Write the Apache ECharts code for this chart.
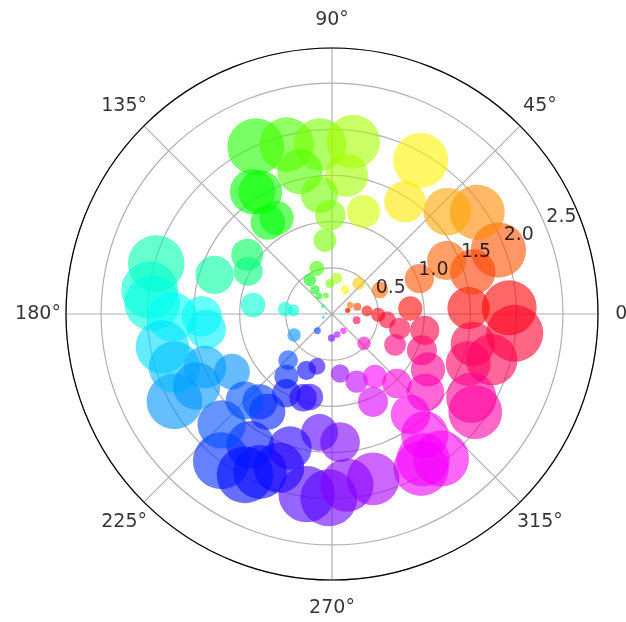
<!DOCTYPE html>
<html>
<head>
<meta charset="utf-8">
<script src="https://cdn.jsdelivr.net/npm/echarts@6/dist/echarts.min.js"></script>
<style>
  html, body { margin: 0; padding: 0; background: #fff; }
  #chart { width: 626px; height: 622px; }
</style>
</head>
<body>
<div id="chart"></div>
<script>
// Scatter points: angle in degrees and radius
const thetaDeg = [
  2, 354, 2.5, 21, 16.6, 25, 22, 35, 41.6, 60, 57, 73,
  26.6, 4, 354, 14, 26.6, 16, 12, 5, 346, 359,
  61.5, 49, 82.5, 94,
  108.5, 123, 125, 126, 108, 139, 170, 201,
  229, 209, 174, 175, 269, 284, 304, 317.5, 277.7, 290,
  226.5, 245.7, 254, 234, 255, 240, 230.6,
  348, 344, 340, 350, 338, 330, 329, 320, 325.6, 307, 307.5, 300, 302,
  284, 308, 295, 273.6, 264, 269, 262, 275,
  251, 245.5, 252.6, 236.5, 251, 238, 233, 225, 241.6, 209,
  164, 172.5, 176.5, 181, 181, 187, 191, 198.6, 202.7, 210, 161.6, 145, 153, 173.5, 208, 224.7,
  114.5, 123, 105, 94, 83, 84, 102.7, 120.5, 120, 91, 96, 125, 95.5,
  348, 334, 304.5, 313
];
const radius = [
  1.92, 1.99, 1.48, 1.93, 1.59, 1.37, 1.02, 1.92, 1.67, 1.92, 1.45, 1.16,
  0.58, 0.85, 0.60, 0.18, 0.22, 0.285, 0.17, 0.38, 0.275, 0.50,
  0.30, 0.44, 0.39, 0.33,
  0.52, 0.44, 0.32, 0.24, 0.21, 0.13, 0.07, 0.10,
  0.24, 0.47, 0.51, 0.42, 0.26, 0.23, 0.22, 0.47, 0.65, 0.78,
  0.69, 0.67, 0.59, 0.84, 0.93, 0.99, 1.23,
  1.56, 1.80, 1.57, 1.02, 1.05, 1.20, 1.76, 1.32, 1.88, 1.96, 1.65, 1.93, 1.86,
  1.84, 1.38, 1.05, 1.39, 1.29, 1.99, 1.97, 1.86,
  1.76, 1.88, 1.52, 1.27, 0.96, 1.67, 1.99, 1.69, 1.98, 1.95,
  1.98, 1.99, 1.95, 1.73, 1.41, 1.37, 1.87, 1.80, 1.49, 1.25, 1.34, 1.12, 1.02, 0.86, 1.66, 1.33,
  1.99, 1.58, 1.90, 1.84, 1.88, 1.51, 1.58, 1.53, 1.20, 1.07, 1.30, 1.21, 0.80,
  0.75, 0.76, 0.82, 1.03
];

// Axis ticks and their labels
const angleTicks = [0, 45, 90, 135, 180, 225, 270, 315];
const angleTickLabels = ['0°', '45°', '90°', '135°', '180°', '225°', '270°', '315°'];
const radiusTicks = [0.5, 1.0, 1.5, 2.0, 2.5];
const radiusTickLabels = ['0.5', '1.0', '1.5', '2.0', '2.5'];
const radiusLabelAngle = 22.5;
const radiusMax = 2.88;

// marker diameter grows linearly with radius (area ~ r^2)
const SIZE_PER_UNIT = 28.6;
const ALPHA = 0.75;

// matplotlib-style "hsv" colormap segments
const HSV_SEG = {
  r: [[0, 1], [0.158730, 1], [0.174603, 0.96875], [0.333333, 0.03125], [0.349206, 0], [0.666667, 0], [0.682540, 0.03125], [0.841270, 0.96875], [0.857143, 1], [1, 1]],
  g: [[0, 0], [0.158730, 0.9375], [0.174603, 1], [0.507937, 1], [0.666667, 0.0625], [0.682540, 0], [1, 0]],
  b: [[0, 0], [0.333333, 0], [0.349206, 0.0625], [0.507937, 1], [0.841270, 1], [0.857143, 0.9375], [1, 0.09375]]
};
function segVal(seg, t) {
  for (let i = 1; i < seg.length; i++) {
    if (t <= seg[i][0]) {
      const [x0, y0] = seg[i - 1], [x1, y1] = seg[i];
      return y0 + (y1 - y0) * (t - x0) / (x1 - x0);
    }
  }
  return seg[seg.length - 1][1];
}
const tMin = Math.min(...thetaDeg), tMax = Math.max(...thetaDeg);
function hsvColor(theta) {
  const t = Math.max(0, Math.min(1, (theta - tMin) / (tMax - tMin)));
  const c = k => Math.round(255 * segVal(HSV_SEG[k], t));
  return `rgba(${c('r')},${c('g')},${c('b')},${ALPHA})`;
}

const points = thetaDeg.map((t, i) => ({
  value: [radius[i], t],
  itemStyle: { color: hsvColor(t) }
}));

const FONT = 'DejaVu Sans';
const angleLabelR = radiusMax + 28 / (266 / radiusMax);

const chart = echarts.init(document.getElementById('chart'), null, { renderer: 'canvas' });
chart.setOption({
  animation: false,
  backgroundColor: '#fff',
  polar: { center: [332, 314], radius: 266 },
  angleAxis: {
    type: 'value', min: 0, max: 360, interval: 45,
    startAngle: 0, clockwise: false,
    axisLine: { show: true, lineStyle: { color: '#000', width: 1.2 } },
    axisTick: { show: false },
    axisLabel: { show: false },
    splitLine: { show: true, lineStyle: { color: '#b0b0b0', width: 1.2 } }
  },
  radiusAxis: {
    type: 'value', min: 0, max: radiusMax, interval: 0.5,
    axisLine: { show: false },
    axisTick: { show: false },
    axisLabel: { show: false },
    splitLine: { show: true, lineStyle: { color: '#b0b0b0', width: 1.2 } }
  },
  series: [
    {
      type: 'scatter', coordinateSystem: 'polar',
      data: points,
      symbol: 'circle',
      symbolSize: v => SIZE_PER_UNIT * v[0],
      itemStyle: { borderWidth: 0 },
      silent: true, z: 2
    },
    {
      type: 'scatter', coordinateSystem: 'polar', clip: false, silent: true, z: 4,
      data: angleTicks.map((a, i) => ({ value: [angleLabelR, a], name: angleTickLabels[i] })),
      symbolSize: 1, itemStyle: { color: 'rgba(0,0,0,0)' },
      label: { show: true, position: 'inside', formatter: p => p.name, color: '#000', fontSize: 19, fontFamily: FONT }
    },
    {
      type: 'scatter', coordinateSystem: 'polar', clip: false, silent: true, z: 4,
      data: radiusTicks.map((r, i) => ({ value: [r, radiusLabelAngle], name: radiusTickLabels[i] })),
      symbolSize: 1, itemStyle: { color: 'rgba(0,0,0,0)' },
      label: { show: true, position: 'inside', align: 'left', verticalAlign: 'bottom', offset: [1, 1], formatter: p => p.name, color: '#000', fontSize: 19, fontFamily: FONT }
    }
  ]
});
</script>
</body>
</html>
